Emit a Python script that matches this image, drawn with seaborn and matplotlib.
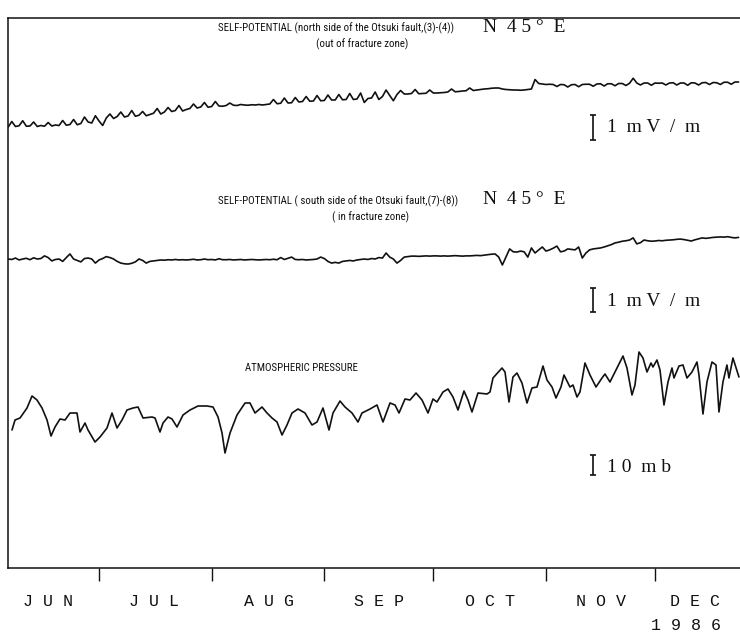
import matplotlib
matplotlib.use("Agg")
import matplotlib.pyplot as plt
from matplotlib import font_manager
import seaborn as sns
import pandas as pd

# ---------------------------------------------------------------------------
# Records, June - December 1986. Time is given in days counted from 1 June.
# ---------------------------------------------------------------------------

# Self-potential, north side of the Otsuki fault (3)-(4), daily values, mV/m
sp_north_day = list(range(5, 207))
sp_north = [
    0.00, 0.22, 0.02, 0.05, 0.25, 0.03, 0.04, 0.20, 0.02, 0.06,
    0.03, 0.18, 0.04, 0.08, 0.06, 0.26, 0.07, 0.10, 0.30, 0.09,
    0.14, 0.40, 0.20, 0.16, 0.45, 0.24, 0.06, 0.36, 0.52, 0.34,
    0.42, 0.60, 0.40, 0.44, 0.66, 0.43, 0.47, 0.62, 0.45, 0.50,
    0.55, 0.74, 0.52, 0.60, 0.78, 0.62, 0.66, 0.86, 0.64, 0.70,
    0.74, 0.92, 0.76, 0.80, 0.98, 0.79, 0.82, 1.02, 0.84, 0.83,
    0.86, 0.96, 0.87, 0.86, 0.90, 0.88, 0.87, 0.89, 0.88, 0.90,
    0.88, 0.90, 0.92, 1.10, 0.93, 0.95, 1.16, 0.96, 0.97, 1.18,
    1.00, 1.02, 1.22, 1.03, 1.04, 1.26, 1.05, 1.06, 1.28, 1.08,
    1.08, 1.30, 1.09, 1.10, 1.34, 1.10, 1.12, 1.36, 0.98, 1.14,
    1.16, 1.40, 1.10, 1.22, 1.48, 1.26, 1.05, 1.30, 1.46, 1.32,
    1.32, 1.34, 1.50, 1.33, 1.34, 1.35, 1.48, 1.36, 1.36, 1.37,
    1.38, 1.40, 1.52, 1.41, 1.42, 1.44, 1.45, 1.56, 1.46, 1.48,
    1.50, 1.52, 1.53, 1.55, 1.56, 1.56, 1.52, 1.50, 1.49, 1.48,
    1.48, 1.47, 1.48, 1.50, 1.52, 1.90, 1.74, 1.72, 1.70, 1.71,
    1.70, 1.62, 1.70, 1.69, 1.60, 1.69, 1.70, 1.61, 1.70, 1.71,
    1.71, 1.63, 1.72, 1.73, 1.64, 1.73, 1.73, 1.65, 1.74, 1.74,
    1.66, 1.75, 1.95, 1.76, 1.68, 1.76, 1.76, 1.67, 1.76, 1.75,
    1.76, 1.68, 1.76, 1.77, 1.68, 1.76, 1.76, 1.67, 1.77, 1.76,
    1.68, 1.77, 1.78, 1.70, 1.78, 1.77, 1.70, 1.79, 1.79, 1.71,
    1.80, 1.80,
]

# Self-potential, south side of the Otsuki fault (7)-(8), daily values, mV/m
sp_south_day = list(range(5, 207))
sp_south = [
    0.00, -0.02, 0.04, -0.04, 0.00, 0.03, -0.03, 0.05, 0.00, 0.02,
    0.13, 0.06, -0.08, -0.02, 0.00, -0.10, 0.06, 0.21, 0.00, -0.06,
    -0.12, 0.02, 0.04, 0.00, -0.17, -0.04, 0.02, 0.10, 0.06, 0.00,
    -0.10, -0.17, -0.20, -0.21, -0.18, -0.12, 0.00, -0.06, -0.17, -0.10,
    -0.08, -0.06, -0.04, -0.05, -0.03, -0.04, -0.02, -0.04, -0.03, -0.04,
    -0.03, -0.01, -0.04, -0.03, 0.00, -0.03, -0.02, -0.04, 0.01, -0.03,
    -0.03, -0.02, -0.04, -0.03, -0.02, -0.04, -0.03, -0.02, -0.03, -0.04,
    -0.03, -0.02, -0.03, -0.01, -0.03, 0.06, -0.02, 0.03, 0.08, -0.02,
    -0.03, -0.02, -0.04, -0.03, -0.02, 0.00, 0.08, 0.02, -0.10, -0.17,
    -0.14, -0.17, -0.10, -0.08, -0.06, -0.08, -0.04, -0.02, 0.00, -0.02,
    0.02, 0.00, 0.06, 0.04, 0.25, 0.08, 0.00, -0.17, -0.06, 0.08,
    0.10, 0.12, 0.12, 0.11, 0.12, 0.13, 0.12, 0.13, 0.13, 0.12,
    0.13, 0.12, 0.13, 0.14, 0.13, 0.12, 0.13, 0.13, 0.14, 0.15,
    0.14, 0.16, 0.18, 0.20, 0.21, 0.08, -0.25, 0.08, 0.42, 0.30,
    0.29, 0.33, 0.30, 0.08, 0.46, 0.25, 0.38, 0.50, 0.33, 0.38,
    0.45, 0.54, 0.30, 0.33, 0.42, 0.40, 0.38, 0.50, 0.04, 0.25,
    0.38, 0.42, 0.44, 0.46, 0.50, 0.55, 0.60, 0.67, 0.70, 0.74,
    0.76, 0.79, 0.88, 0.63, 0.68, 0.79, 0.76, 0.74, 0.75, 0.77,
    0.76, 0.78, 0.79, 0.80, 0.82, 0.83, 0.81, 0.78, 0.75, 0.80,
    0.84, 0.88, 0.86, 0.88, 0.90, 0.91, 0.92, 0.91, 0.93, 0.90,
    0.88, 0.90,
]

# Atmospheric pressure, mb
pressure_day = [
    6.05, 6.88, 8.26, 10.18, 11.56, 12.93, 14.31, 15.69, 16.79, 17.89,
    19.26, 20.64, 22.02, 23.94, 24.77, 26.14, 26.97, 28.90, 30.27, 32.20,
    33.57, 34.95, 36.33, 37.70, 39.35, 40.73, 42.11, 44.58, 45.41, 46.78,
    47.61, 48.99, 50.09, 51.46, 53.11, 55.04, 57.24, 59.72, 61.37, 62.75,
    63.85, 64.67, 66.05, 67.97, 70.18, 71.55, 72.93, 74.85, 76.23, 77.61,
    78.98, 80.36, 81.73, 83.11, 84.76, 86.69, 88.61, 89.99, 91.64, 93.29,
    94.39, 96.32, 97.70, 99.62, 101.27, 102.37, 104.58, 106.50, 108.15, 110.08,
    111.46, 112.56, 114.21, 115.58, 117.24, 118.89, 120.54, 121.91, 123.01, 124.67,
    126.04, 127.41, 128.79, 130.44, 131.54, 132.64, 134.29, 136.77, 137.60, 138.42,
    140.90, 141.73, 142.83, 143.92, 145.02, 146.40, 147.78, 149.15, 150.53, 152.18,
    153.28, 154.66, 155.76, 157.13, 157.96, 159.61, 160.44, 161.54, 162.36, 163.74,
    165.12, 166.77, 168.42, 169.24, 170.62, 172.55, 174.20, 175.30, 176.67, 177.50,
    178.60, 179.70, 180.80, 181.90, 182.45, 183.55, 184.38, 185.48, 186.58, 187.68,
    188.23, 189.61, 190.71, 191.81, 193.18, 194.56, 195.11, 196.21, 197.31, 198.69,
    199.79, 200.61, 201.71, 202.81, 203.36, 204.46, 206.11,
]
pressure = [
    1001.0, 1006.0, 1007.0, 1012.0, 1018.0, 1016.0, 1012.0, 1006.0, 998.0, 1002.5,
    1006.5, 1006.0, 1009.5, 1009.5, 1000.0, 1004.5, 1001.0, 995.0, 997.5, 1002.0,
    1009.5, 1002.0, 1006.0, 1011.0, 1012.0, 1012.5, 1007.0, 1007.5, 1007.0, 1000.0,
    1004.5, 1007.5, 1006.5, 1002.5, 1008.5, 1011.0, 1013.0, 1013.0, 1012.5, 1007.5,
    999.5, 989.5, 999.5, 1008.5, 1014.5, 1014.5, 1009.5, 1012.5, 1009.5, 1007.0,
    1005.0, 998.5, 1003.5, 1009.5, 1011.5, 1009.5, 1003.5, 1005.0, 1012.0, 1001.0,
    1009.5, 1015.5, 1012.5, 1009.5, 1005.0, 1009.5, 1011.5, 1013.5, 1005.0, 1014.5,
    1013.5, 1009.5, 1016.5, 1016.0, 1019.5, 1016.0, 1009.5, 1016.5, 1015.0, 1020.0,
    1021.5, 1017.5, 1011.0, 1020.5, 1016.0, 1010.0, 1019.5, 1019.0, 1020.0, 1027.0,
    1032.0, 1030.0, 1015.0, 1027.5, 1029.5, 1024.5, 1014.5, 1022.0, 1022.5, 1033.0,
    1026.0, 1022.5, 1017.0, 1022.5, 1028.5, 1022.5, 1023.5, 1017.5, 1020.0, 1034.5,
    1028.5, 1022.5, 1027.0, 1029.0, 1025.0, 1032.0, 1038.0, 1032.0, 1018.5, 1023.5,
    1040.0, 1037.0, 1030.0, 1034.5, 1032.5, 1036.0, 1031.0, 1013.5, 1025.0, 1032.0,
    1027.0, 1033.0, 1033.5, 1027.0, 1030.0, 1035.0, 1028.5, 1009.0, 1025.0, 1035.0,
    1033.5, 1010.0, 1025.0, 1033.5, 1027.0, 1037.0, 1027.5,
]

# Month boundaries (1 Jul ... 1 Dec) and month names
month_start = [30, 61, 92, 122, 153, 183]
month_names = ["J U N", "J U L", "A U G", "S E P", "O C T", "N O V", "D E C"]
year_label = "1 9 8 6"

# ---------------------------------------------------------------------------
# Layout
# ---------------------------------------------------------------------------
sns.set_theme(style="white")
plt.rcParams["font.family"] = ["DejaVu Sans"]


def first_family(candidates):
    for fam in candidates:
        try:
            font_manager.findfont(font_manager.FontProperties(family=fam),
                                  fallback_to_default=False)
            return fam
        except Exception:
            continue
    return "DejaVu Sans"


NARROW = first_family(["Liberation Sans Narrow", "Roboto Condensed", "DejaVu Sans"])
SERIF = first_family(["Liberation Serif", "DejaVu Serif"])
MONO = first_family(["Liberation Mono", "DejaVu Sans Mono"])

W, H = 740, 635
fig = plt.figure(figsize=(W / 100, H / 100), dpi=100)
fig.patch.set_facecolor("white")


def fx(px):
    return px / W


def fy(py):
    return 1 - py / H


LEFT, RIGHT, TOP, BOTTOM = 8, 740, 18, 568
rect = [fx(LEFT), fy(BOTTOM), fx(RIGHT) - fx(LEFT), fy(TOP) - fy(BOTTOM)]
XLIM = (4.95, 206.4)
INK = "#111111"
LW = 1.2

# frame with month ticks
ax = fig.add_axes(rect)
ax.set_facecolor("white")
ax.set_xlim(*XLIM)
ax.set_ylim(0, 1)
ax.set_yticks([])
for side in ("left", "top", "bottom"):
    ax.spines[side].set_visible(True)
    ax.spines[side].set_color(INK)
    ax.spines[side].set_linewidth(1.1)
ax.spines["right"].set_visible(False)
ax.set_xticks(month_start)
ax.set_xticklabels([])
ax.tick_params(axis="x", which="major", direction="out", length=9, width=1.0,
               color=INK, bottom=True)
label_pos = [16.0, 45.1, 76.8, 107.0, 137.6, 168.1, 194.0]
ax.set_xticks(label_pos, minor=True)
ax.set_xticklabels(month_names, minor=True, family=MONO, fontsize=12, color=INK)
ax.tick_params(axis="x", which="minor", length=0, pad=19)


def trace_axes(ylim):
    a = fig.add_axes(rect, sharex=ax)
    a.set_facecolor("none")
    a.set_ylim(*ylim)
    a.set_axis_off()
    return a


ax_n = trace_axes((-17.64, 4.36))
ax_s = trace_axes((-12.875, 10.042))
ax_p = trace_axes((932.0, 1207.0))
ax.set_xlim(*XLIM)

df_n = pd.DataFrame({"day": sp_north_day, "value": sp_north})
df_s = pd.DataFrame({"day": sp_south_day, "value": sp_south})
df_p = pd.DataFrame({"day": pressure_day, "value": pressure})

sns.lineplot(data=df_n, x="day", y="value", ax=ax_n, color=INK, linewidth=LW,
             estimator=None, sort=False)
sns.lineplot(data=df_s, x="day", y="value", ax=ax_s, color=INK, linewidth=LW,
             estimator=None, sort=False)
sns.lineplot(data=df_p, x="day", y="value", ax=ax_p, color=INK, linewidth=LW,
             estimator=None, sort=False)
for a in (ax_n, ax_s, ax_p):
    a.set_axis_off()

# scale bars: 1 mV/m, 1 mV/m, 10 mb
BAR_DAY = 165.9
bar_kw = dict(color=INK, lw=1.2, capsize=2.5, capthick=1.2)
ax_n.errorbar([BAR_DAY], [-0.02], yerr=[0.5], **bar_kw)
ax_s.errorbar([BAR_DAY], [-1.71], yerr=[0.5], **bar_kw)
ax_p.errorbar([BAR_DAY], [983.5], yerr=[5.0], **bar_kw)


def put(px, py, s, **kw):
    fig.text(fx(px), fy(py), s, color=INK, **kw)


title_kw = dict(family=NARROW, fontsize=7.8, ha="center", va="center")
put(336, 28, "SELF-POTENTIAL (north side of the Otsuki fault,(3)-(4))", **title_kw)
put(362, 44, "(out of fracture zone)", **title_kw)
put(338, 201, "SELF-POTENTIAL ( south side of the Otsuki fault,(7)-(8))", **title_kw)
put(370, 217, "( in fracture zone)", **title_kw)
put(301, 368, "ATMOSPHERIC PRESSURE", **title_kw)

serif_kw = dict(family=SERIF, fontsize=14, va="center")
put(524, 27, "N  4 5 °  E", ha="center", **serif_kw)
put(524, 199, "N  4 5 °  E", ha="center", **serif_kw)
put(607, 128, "1  m V  /  m", ha="left", **serif_kw)
put(607, 302, "1  m V  /  m", ha="left", **serif_kw)
put(607, 467, "1 0  m b", ha="left", **serif_kw)

put(686, 626, year_label, family=MONO, fontsize=12, ha="center", va="center")

fig.savefig("out.png", dpi=100, facecolor="white")
